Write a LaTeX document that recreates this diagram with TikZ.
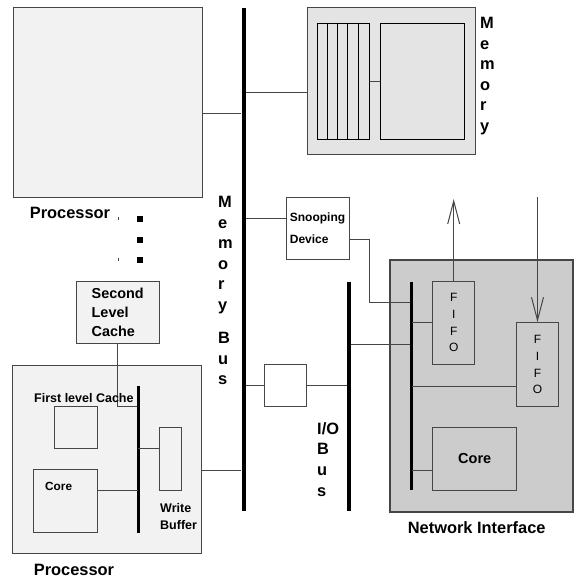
\documentclass[tikz,border=0pt]{standalone}
\usepackage{fontspec}
\setmainfont{Liberation Sans}
\usetikzlibrary{arrows.meta}
\definecolor{myLightGray}{RGB}{242, 242, 242}
\definecolor{myMemGray}{RGB}{228, 228, 228}
\definecolor{myNetGray}{RGB}{204, 204, 204}
\definecolor{myLine}{RGB}{70, 70, 70}

\tikzset{
	box/.style={draw=myLine, line width=1pt, inner sep=0pt, rectangle},
	bus/.style={fill=black, inner sep=0pt, minimum width=4pt},
	wire/.style={draw=myLine, line width=1pt},
	bigtxt/.style={font=\fontsize{16.4}{20.6}\selectfont\bfseries, inner sep=0pt, align=left},
	smalltxt/.style={font=\fontsize{12.5}{17.7}\selectfont\bfseries, inner sep=0pt, align=left},
	fifotxt/.style={font=\fontsize{12}{16.7}\selectfont, align=center},
	barb/.style={-{Straight Barb[length=23pt, width=12pt]}}
}

\begin{document}
\begin{tikzpicture}[x=1pt, y=-1pt]
				\useasboundingbox (0,0) rectangle (574,581);
				% processors, memory and the network interface
				\draw (107.5,102) node[box, fill=myLightGray, minimum width=189pt, minimum height=190pt] (P1) {};
				\draw (391,80.5) node[box, fill=myMemGray, minimum width=168pt, minimum height=147pt] (mem) {};
				\draw (343,81) node[box, draw=black, minimum width=52pt, minimum height=116pt] (stack) {};
				\draw (422,81) node[box, draw=black, minimum width=84pt, minimum height=116pt] (array) {};
				\foreach \i in {1,...,4}
					\draw[black, line width=0.8pt] ([xshift=\i*10.4pt]stack.north west) -- ([xshift=\i*10.4pt]stack.south west);
				\draw (107.2,459.2) node[box, fill=myLightGray, minimum width=189pt, minimum height=188pt] (P2) {};
				\draw (481.5,386) node[box, fill=myNetGray, line width=1.3pt, minimum width=183pt, minimum height=252pt] (NI) {};
		
				\draw (317.5,228) node[box, minimum width=63pt, minimum height=62pt, font=\fontsize{12}{22}\selectfont\bfseries, align=left] (snoop) {Snooping\\Device};
				\draw (117.7,312.2) node[box, fill=myLightGray, minimum width=83pt, minimum height=62pt, font=\fontsize{14.4}{18.8}\selectfont\bfseries, align=left] (SLC) {Second\\Level\\Cache};
				\draw (285.8,385.5) node[box, minimum width=42pt, minimum height=42pt] (bridge) {};
		
				\draw (75.7,427.5) node[box, minimum width=43pt, minimum height=42pt] (L1) {};
				\draw (65.2,500.8) node[box, minimum width=64pt, minimum height=63pt] (core) {};
				\draw (170.2,459) node[box, minimum width=22pt, minimum height=63pt] (wbuf) {};
		
				\draw (453.7,322.7) node[box, minimum width=42pt, minimum height=83pt, fifotxt] (fifoA) {F\\I\\F\\O};
				\draw (537.5,364.7) node[box, minimum width=42pt, minimum height=84pt, fifotxt] (fifoB) {F\\I\\F\\O};
				\draw (474.7,459) node[box, minimum width=84pt, minimum height=63pt, font=\fontsize{14.5}{17}\selectfont\bfseries] (nicore) {Core};
		
				% buses
				\draw (243.5,259.5) node[bus, minimum height=503pt] (mbus) {};
				\draw (349,396.2) node[bus, minimum height=229pt] (iobus) {};
				\draw (411.7,385.9) node[bus, minimum width=2.5pt, minimum height=208pt] (nibus) {};
				\draw (138.3,459.3) node[bus, minimum width=2.5pt, minimum height=147pt] (pbus) {};
		
				\coordinate (outA) at (453.7,199);
				\coordinate (inB) at (537.5,197);
		
				\path[wire]
				(P1.east |- 0,113) edge (mbus.west |- 0,113)
				(mbus.east |- 0,92) edge (mem.west |- 0,92)
				(stack.east) edge (array.west)
				(mbus.east |- 0,218) edge (snoop.west |- 0,218)
				(mbus.east |- bridge) edge (bridge.west)
				(bridge.east) edge (iobus.west |- bridge)
				(iobus.east |- 0,344) edge (nibus.west |- 0,344)
				(nibus |- fifoA) edge (fifoA.west)
				(nibus |- 0,386) edge (fifoB.west |- 0,386)
				(nibus |- 0,470) edge (nicore.west |- 0,470)
				(core.east |- 0,490) edge (pbus |- 0,490)
				(pbus |- 0,448.3) edge (wbuf.west |- 0,448.3)
				(P2.east |- 0,470) edge (mbus.west |- 0,470)
				(fifoA.north) edge[barb] (outA)
				(inB) edge[barb] (fifoB.north)
				;
				\draw[wire] (snoop.east |- 0,239) -- ++(20,0) |- (nibus.west |- 0,302);
				\draw[wire] (SLC.south) |- (pbus.west |- 0,406);
		
				% labels
				\draw (480,17.1) node[bigtxt, anchor=north west] (memlbl) {M\\e\\m\\o\\r\\y};
				\draw (218,196.1) node[bigtxt, anchor=north west] (mbuslbl) {M\\e\\m\\o\\r\\y\\[12.5pt]B\\u\\s};
				\draw (317,422.3) node[bigtxt, anchor=north west] (iobuslbl) {I/O\\B\\u\\s};
				\draw (70,213) node[bigtxt] (P1lbl) {Processor};
				\draw (74,570) node[bigtxt] (P2lbl) {Processor};
				\draw (476.7,527.3) node[bigtxt] (NIlbl) {Network Interface};
				\draw (34,397.7) node[smalltxt, anchor=west] (L1lbl) {First level Cache};
				\draw (45,486.7) node[smalltxt, anchor=west, font=\fontsize{11.8}{14}\selectfont\bfseries] (corelbl) {Core};
				\draw (160,502.9) node[smalltxt, anchor=north west] (wbuflbl) {Write\\Buffer};
		
				% more processors
				\foreach \y in {219,240,260}
					\fill (140,\y) +(-3,-3) rectangle +(3,3);
				\draw[myLine, line width=0.8pt] (118,216.5) -- ++(0,3) (118,257.5) -- ++(0,3);
			\end{tikzpicture}
\end{document}
